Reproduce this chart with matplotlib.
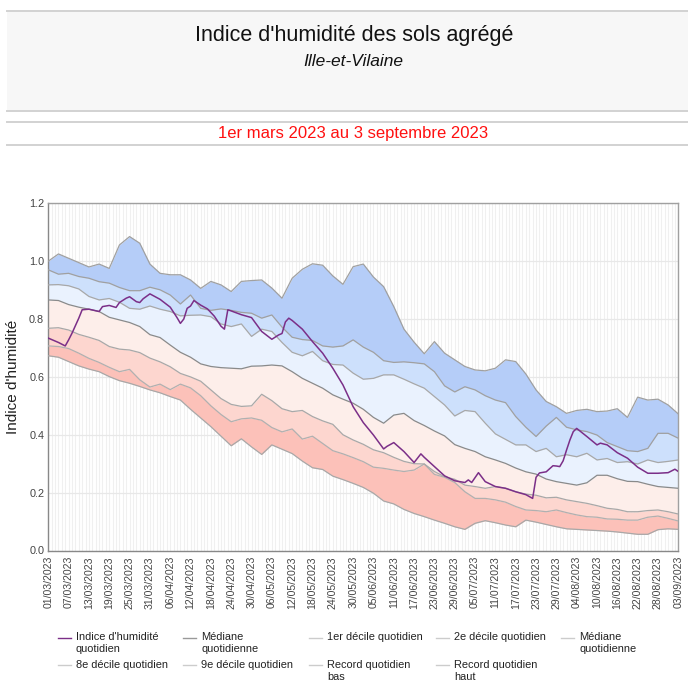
import matplotlib
matplotlib.use('Agg')
import matplotlib.pyplot as plt
import matplotlib.dates as mdates
from matplotlib.lines import Line2D
from matplotlib.patches import Rectangle
import pandas as pd

plt.rcParams['font.family'] = ['Liberation Sans', 'DejaVu Sans']

# ---------------- data ----------------
start_date = '2023-03-01'
end_date = '2023-09-03'

band_days = [0, 3, 6, 9, 12, 15, 18, 21, 24, 27, 30, 33, 36, 39, 42, 45, 48, 51, 54, 57,
             60, 63, 66, 69, 72, 75, 78, 81, 84, 87, 90, 93, 96, 99, 102, 105, 108, 111,
             114, 117, 120, 123, 126, 129, 132, 135, 138, 141, 144, 147, 150, 153, 156,
             159, 162, 165, 168, 171, 174, 177, 180, 183, 186]

record_haut = [1.00, 1.025, 1.01, 0.995, 0.98, 0.99, 0.975, 1.056, 1.085, 1.062, 0.99, 0.958,
               0.953, 0.953, 0.935, 0.906, 0.93, 0.918, 0.895, 0.93, 0.933, 0.935, 0.907,
               0.872, 0.941, 0.972, 0.991, 0.986, 0.949, 0.92, 0.981, 0.99, 0.945, 0.912,
               0.843, 0.765, 0.72, 0.68, 0.722, 0.682, 0.659, 0.636, 0.624, 0.621, 0.63,
               0.659, 0.653, 0.61, 0.555, 0.515, 0.497, 0.474, 0.484, 0.488, 0.48, 0.482,
               0.49, 0.46, 0.53, 0.52, 0.523, 0.503, 0.472]

decile_9 = [0.97, 0.955, 0.958, 0.947, 0.941, 0.929, 0.924, 0.909, 0.898, 0.898, 0.91, 0.901,
            0.883, 0.852, 0.883, 0.837, 0.83, 0.835, 0.83, 0.823, 0.82, 0.803, 0.814, 0.772,
            0.737, 0.729, 0.726, 0.707, 0.703, 0.707, 0.728, 0.703, 0.685, 0.656, 0.65,
            0.652, 0.649, 0.645, 0.618, 0.569, 0.548, 0.566, 0.555, 0.535, 0.52, 0.511,
            0.463, 0.426, 0.394, 0.43, 0.46, 0.426, 0.417, 0.411, 0.399, 0.373, 0.359,
            0.345, 0.342, 0.353, 0.405, 0.405, 0.388]

decile_8 = [0.918, 0.919, 0.915, 0.904, 0.878, 0.866, 0.871, 0.858, 0.837, 0.834, 0.845,
            0.834, 0.826, 0.811, 0.813, 0.814, 0.808, 0.783, 0.774, 0.783, 0.74, 0.765,
            0.757, 0.719, 0.685, 0.673, 0.688, 0.656, 0.643, 0.641, 0.613, 0.592, 0.595,
            0.607, 0.607, 0.592, 0.576, 0.561, 0.532, 0.503, 0.465, 0.484, 0.48, 0.44,
            0.403, 0.384, 0.365, 0.365, 0.342, 0.353, 0.324, 0.331, 0.324, 0.336, 0.313,
            0.318, 0.304, 0.307, 0.299, 0.313, 0.304, 0.308, 0.313]

mediane = [0.866, 0.864, 0.85, 0.841, 0.834, 0.826, 0.806, 0.797, 0.788, 0.774, 0.746, 0.736,
           0.71, 0.685, 0.668, 0.645, 0.636, 0.632, 0.63, 0.628, 0.637, 0.638, 0.641, 0.638,
           0.618, 0.595, 0.578, 0.561, 0.538, 0.523, 0.509, 0.488, 0.46, 0.44, 0.468, 0.474,
           0.449, 0.432, 0.413, 0.396, 0.366, 0.353, 0.342, 0.324, 0.313, 0.301, 0.285,
           0.272, 0.264, 0.247, 0.238, 0.232, 0.226, 0.234, 0.26, 0.26, 0.248, 0.239,
           0.238, 0.229, 0.221, 0.218, 0.215]

decile_2 = [0.768, 0.77, 0.762, 0.747, 0.737, 0.726, 0.705, 0.696, 0.693, 0.684, 0.665, 0.652,
            0.635, 0.612, 0.60, 0.585, 0.555, 0.525, 0.505, 0.498, 0.50, 0.54, 0.518, 0.49,
            0.48, 0.484, 0.463, 0.448, 0.436, 0.40, 0.382, 0.367, 0.348, 0.338, 0.322,
            0.308, 0.30, 0.299, 0.273, 0.255, 0.246, 0.226, 0.221, 0.215, 0.221, 0.215,
            0.203, 0.195, 0.191, 0.182, 0.184, 0.175, 0.169, 0.163, 0.155, 0.146, 0.142,
            0.134, 0.134, 0.138, 0.14, 0.134, 0.126]

decile_1 = [0.707, 0.705, 0.698, 0.682, 0.664, 0.65, 0.633, 0.618, 0.626, 0.59, 0.565, 0.575,
            0.556, 0.575, 0.562, 0.535, 0.50, 0.47, 0.445, 0.455, 0.458, 0.45, 0.425, 0.41,
            0.42, 0.385, 0.395, 0.37, 0.345, 0.334, 0.321, 0.307, 0.288, 0.284, 0.278,
            0.273, 0.278, 0.299, 0.263, 0.253, 0.235, 0.203, 0.18, 0.18, 0.175, 0.167,
            0.152, 0.14, 0.138, 0.134, 0.14, 0.131, 0.123, 0.117, 0.115, 0.109, 0.108,
            0.105, 0.105, 0.115, 0.119, 0.111, 0.102]

record_bas = [0.673, 0.668, 0.653, 0.638, 0.627, 0.618, 0.601, 0.587, 0.578, 0.567, 0.555,
              0.545, 0.532, 0.52, 0.488, 0.458, 0.428, 0.395, 0.362, 0.386, 0.358, 0.332,
              0.365, 0.35, 0.335, 0.309, 0.286, 0.28, 0.257, 0.245, 0.232, 0.218, 0.198,
              0.171, 0.161, 0.142, 0.128, 0.117, 0.105, 0.094, 0.082, 0.073, 0.094, 0.103,
              0.096, 0.088, 0.082, 0.105, 0.098, 0.09, 0.082, 0.075, 0.073, 0.071, 0.069,
              0.067, 0.064, 0.06, 0.056, 0.056, 0.072, 0.075, 0.073]

index_days = [0, 3, 5, 6, 7, 9, 10, 12, 15, 16, 18, 20, 21, 23, 24, 26, 27, 28, 30, 33, 36,
              38, 39, 40, 41, 42, 43, 45, 47, 49, 51, 52, 53, 54, 57, 60, 63, 66, 68, 69, 70,
              71, 72, 75, 78, 81, 84, 87, 90, 93, 96, 99, 100, 102, 105, 108, 110, 111, 114,
              117, 120, 123, 124, 125, 127, 129, 132, 135, 138, 141, 143, 144, 145, 147,
              149, 150, 151, 152, 153, 154, 155, 156, 159, 162, 163, 165, 168, 171, 174,
              177, 180, 183, 185, 186]
index_values = [0.734, 0.719, 0.707, 0.728, 0.751, 0.803, 0.832, 0.834, 0.826, 0.843, 0.847,
                0.84, 0.857, 0.872, 0.877, 0.86, 0.857, 0.87, 0.887, 0.868, 0.841, 0.805,
                0.785, 0.80, 0.837, 0.845, 0.864, 0.848, 0.835, 0.81, 0.775, 0.765, 0.832,
                0.828, 0.815, 0.805, 0.757, 0.73, 0.745, 0.75, 0.79, 0.803, 0.795, 0.765,
                0.722, 0.682, 0.63, 0.572, 0.497, 0.442, 0.399, 0.351, 0.36, 0.373, 0.342,
                0.304, 0.334, 0.322, 0.29, 0.258, 0.241, 0.235, 0.244, 0.235, 0.269, 0.238,
                0.221, 0.215, 0.203, 0.193, 0.18, 0.253, 0.268, 0.272, 0.293, 0.292, 0.29,
                0.31, 0.347, 0.382, 0.411, 0.422, 0.394, 0.365, 0.371, 0.365, 0.338, 0.319,
                0.288, 0.267, 0.267, 0.269, 0.281, 0.273]

y_ticks = [0.0, 0.2, 0.4, 0.6, 0.8, 1.0, 1.2]

title = "Indice d'humidité des sols agrégé"
subtitle = "Ille-et-Vilaine"
period = "1er mars 2023 au 3 septembre 2023"
y_label = "Indice d'humidité"

legend_row1 = ["Indice d'humidité\nquotidien", "Médiane\nquotidienne", "1er décile quotidien",
               "2e décile quotidien", "Médiane\nquotidienne"]
legend_row2 = ["8e décile quotidien", "9e décile quotidien", "Record quotidien\nbas",
               "Record quotidien\nhaut"]

# ---------------- figure ----------------
W, H = 688, 682
fig = plt.figure(figsize=(W / 100, H / 100), dpi=100)


def fx(px):
    return px / W


def fy(py):
    return 1 - py / H


# header boxes
fig.add_artist(Rectangle((fx(7), fy(111)), fx(688 - 7), (111 - 10.7) / H,
                         transform=fig.transFigure, facecolor='#f7f7f7', edgecolor='none'))
for yy in (10.7, 111, 121.7, 145):
    fig.add_artist(Line2D([fx(7), 1], [fy(yy), fy(yy)], transform=fig.transFigure,
                          color='#d2d2d2', lw=1.4))
fig.text(fx(354), fy(41), title, ha='center', va='baseline', fontsize=15.5, color='#111111')
fig.text(fx(353), fy(66.5), subtitle, ha='center', va='baseline', fontsize=12.5,
         style='italic', color='#111111')
fig.text(fx(353), fy(138.3), period, ha='center', va='baseline', fontsize=12, color='#ff1010')

# axes
ax = fig.add_axes([fx(48.3), fy(550.5), fx(630), 347.2 / H])
start = pd.Timestamp(start_date)
end = pd.Timestamp(end_date)
band_dates = start + pd.to_timedelta(band_days, unit='D')
index_dates = start + pd.to_timedelta(index_days, unit='D')

layers = [record_bas, decile_1, decile_2, mediane, decile_8, decile_9, record_haut]
fills = ['#fcc1b9', '#fdd6cf', '#fdeeea', '#eaf2fe', '#cde0fc', '#b5cdf8']
for lo, hi, c in zip(layers[:-1], layers[1:], fills):
    ax.fill_between(band_dates, lo, hi, color=c, lw=0, zorder=2)

line_cols = ['#a8a8a8', '#b0b0b0', '#a8a8a8', '#8a8a8a', '#a8a8a8', '#a0a0a0', '#a0a0a0']
for s, c in zip(layers, line_cols):
    ax.plot(band_dates, s, color=c, lw=0.9, zorder=3)

ax.plot(index_dates, index_values, color='#7b2f88', lw=1.1, zorder=4)

ax.set_xlim(start, end)
ax.set_ylim(0, 1.2)
ax.set_yticks(y_ticks)
ax.set_yticklabels([f'{v:.1f}' for v in y_ticks])
tick_dates = pd.date_range(start, end, freq='6D')
ax.set_xticks(tick_dates)
ax.set_xticklabels([d.strftime('%d/%m/%Y') for d in tick_dates], rotation=90)
ax.xaxis.set_minor_locator(mdates.DayLocator())
ax.tick_params(axis='both', which='both', length=0, colors='#444444', labelsize=7.6)
ax.tick_params(axis='x', pad=4)
ax.tick_params(axis='y', pad=3, labelsize=7.8)
ax.set_axisbelow(True)
ax.grid(axis='x', which='both', color='#f0f0f0', lw=0.8)
ax.grid(axis='y', which='major', color='#e8e8e8', lw=0.9)
for sp in ax.spines.values():
    sp.set_color('#a0a0a0')
    sp.set_linewidth(1.0)
ax.spines['left'].set_color('#888888')
ax.spines['bottom'].set_color('#888888')
ax.set_ylabel(y_label, fontsize=11, color='#222222')
ax.yaxis.set_label_coords((20 - 48.3) / 630, 0.5)

# legend (manual, row-major like the original)
col_x = [58, 183, 309, 436, 561]
line_len = 13
text_gap = 5


def legend_item(x, y, label, color):
    fig.add_artist(Line2D([fx(x), fx(x + line_len)], [fy(y), fy(y)],
                          transform=fig.transFigure, color=color, lw=1.0))
    fig.text(fx(x + line_len + text_gap), fy(y - 5.5), label, ha='left', va='top',
             fontsize=7.9, color='#222222', linespacing=1.25)


row1_colors = ['#7b2f88', '#999999', '#cccccc', '#cccccc', '#cccccc']
row2_colors = ['#cccccc', '#cccccc', '#cccccc', '#cccccc']
for x, lab, c in zip(col_x, legend_row1, row1_colors):
    legend_item(x, 638, lab, c)
for x, lab, c in zip(col_x, legend_row2, row2_colors):
    legend_item(x, 665, lab, c)

fig.savefig('out.png', dpi=100)
